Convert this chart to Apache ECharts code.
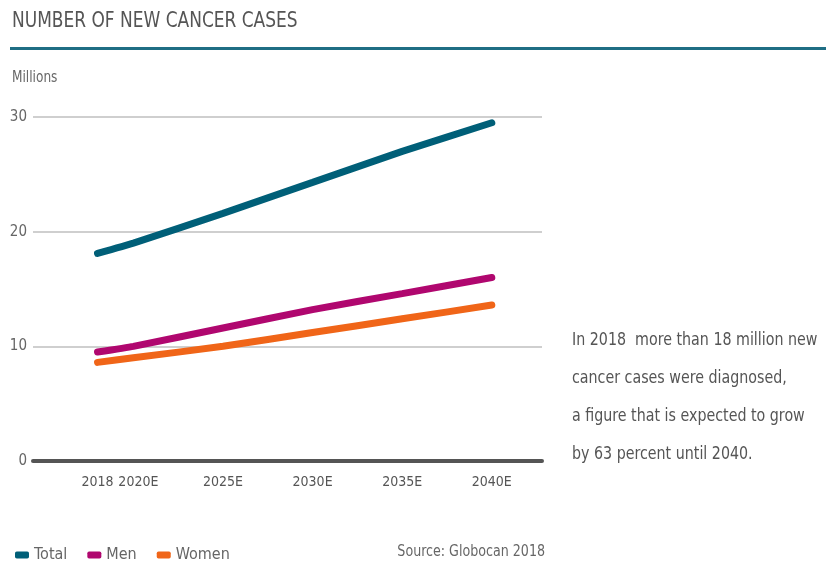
<!DOCTYPE html>
<html>
<head>
<meta charset="utf-8">
<script src="https://cdn.jsdelivr.net/npm/echarts@6/dist/echarts.min.js"></script>
<style>
  html, body { margin: 0; padding: 0; background: #fff; }
  #chart { width: 826px; height: 565px; }
</style>
</head>
<body>
<div id="chart"></div>
<script>
// years on the x axis and the labels shown under them
const years = [2018, 2020, 2025, 2030, 2035, 2040]
const yearLabels = ['2018', '2020E', '2025E', '2030E', '2035E', '2040E']
// new cases, millions
const total = [18.1, 19.0, 21.6, 24.3, 27.0, 29.5]
const men = [9.5, 10.0, 11.6, 13.2, 14.6, 16.0]
const women = [8.6, 9.0, 10.0, 11.2, 12.4, 13.6]
const yTicks = [0, 10, 20, 30]

const FONT = '"DejaVu Sans Condensed", "Liberation Sans Narrow", sans-serif'
const colors = { total: '#005f78', men: '#b0076f', women: '#f06518' }

const chart = echarts.init(document.getElementById('chart'))

const mkSeries = (name, data, color) => ({
  name,
  type: 'line',
  data: years.map((y, i) => [y, data[i]]),
  smooth: 0.15,
  symbol: 'none',
  lineStyle: { color, width: 7, cap: 'round' },
  itemStyle: { color },
})

const option = {
  animation: false,
  textStyle: { fontFamily: FONT },
  grid: { left: 33, right: 284, top: 117, bottom: 104 },
  xAxis: {
    type: 'value',
    min: 2014.4,
    max: 2042.8,
    splitLine: { show: false },
    axisLine: { show: true, onZero: true, lineStyle: { color: '#555', width: 4 } },
    axisTick: { show: false },
    axisLabel: {
      customValues: years,
      formatter: (v) => {
        const i = years.indexOf(Math.round(v))
        if (i < 0) return ''
        return i === 1 ? '{r|' + yearLabels[i] + '}' : yearLabels[i]
      },
      rich: { r: { padding: [0, 0, 0, 10], fontSize: 14, color: '#555' } },
      color: '#555',
      fontSize: 14,
      fontFamily: FONT,
      margin: 14,
    },
  },
  yAxis: {
    type: 'value',
    min: 0,
    max: 30,
    interval: 10,
    axisLine: { show: false },
    axisTick: { show: false },
    axisLabel: {
      customValues: yTicks,
      color: '#666',
      fontSize: 15,
      fontFamily: FONT,
      margin: 6,
    },
    splitLine: { lineStyle: { color: '#cfcfcf', width: 2 } },
  },
  legend: {
    left: 10,
    top: 542,
    icon: 'roundRect',
    itemWidth: 14,
    itemHeight: 7,
    itemGap: 20,
    textStyle: { color: '#666', fontSize: 16, fontFamily: FONT },
    data: ['Total', 'Men', 'Women'],
  },
  graphic: [
    {
      type: 'text', x: 12, y: 11, scaleX: 0.9,
      style: { text: 'NUMBER OF NEW CANCER CASES', fill: '#555', font: '21px ' + FONT },
    },
    {
      type: 'rect', left: 10, top: 47,
      shape: { width: 816, height: 3 },
      style: { fill: '#1f6e84' },
    },
    {
      type: 'text', x: 12, y: 71, scaleX: 0.9,
      style: { text: 'Millions', fill: '#666', font: '15px ' + FONT },
    },
    {
      type: 'text', x: 572, y: 321, scaleX: 0.88,
      style: {
        text: 'In 2018  more than 18 million new\ncancer cases were diagnosed,\na figure that is expected to grow\nby 63 percent until 2040.',
        fill: '#555',
        font: '18px ' + FONT,
        lineHeight: 38,
      },
    },
    {
      type: 'text', x: 545, y: 544, scaleX: 0.88,
      style: { text: 'Source: Globocan 2018', fill: '#666', font: '16px ' + FONT, align: 'right' },
    },
  ],
  series: [
    mkSeries('Total', total, colors.total),
    mkSeries('Men', men, colors.men),
    mkSeries('Women', women, colors.women),
  ],
}

chart.setOption(option)
window.addEventListener('resize', () => chart.resize())
</script>
</body>
</html>
